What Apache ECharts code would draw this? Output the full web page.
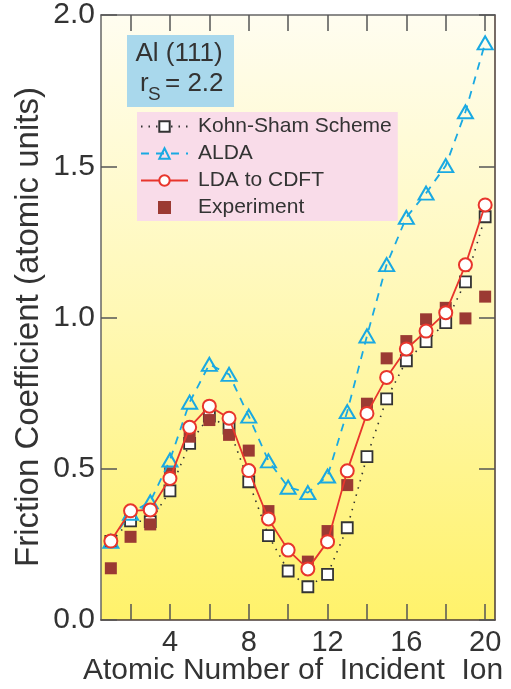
<!DOCTYPE html>
<html>
<head>
<meta charset="utf-8">
<script src="https://cdn.jsdelivr.net/npm/echarts@6/dist/echarts.min.js"></script>
<style>html,body{margin:0;padding:0;background:#fff;}#c{width:511px;height:689px;}</style>
</head>
<body>
<div id="c"></div>
<script>
const atomicNumbers = [1,2,3,4,5,6,7,8,9,10,11,12,13,14,15,16,17,18,19,20];
const kohnSham = [0.26,0.328,0.325,0.427,0.584,0.674,0.634,0.457,0.279,0.162,0.110,0.151,0.305,0.540,0.731,0.857,0.920,0.983,1.118,1.333];
const alda = [0.26,0.353,0.391,0.529,0.720,0.845,0.812,0.674,0.526,0.439,0.421,0.476,0.689,0.939,1.175,1.331,1.411,1.502,1.680,1.908];
const ldaCdft = [0.261,0.361,0.364,0.468,0.637,0.707,0.667,0.494,0.334,0.231,0.169,0.259,0.493,0.683,0.802,0.896,0.955,1.016,1.174,1.372];
const experiment = [0.171,0.275,0.316,0.485,0.606,0.661,0.612,0.560,0.360,null,0.193,0.294,0.446,0.715,0.865,0.922,0.994,1.032,0.997,1.069];
const xTickValues = [2,4,6,8,10,12,14,16,18,20];
const xLabelValues = [4,8,12,16,20];
const seriesNames = ['Kohn-Sham Scheme','ALDA','LDA to CDFT','Experiment'];

const pair = arr => atomicNumbers.map((n,i) => [n, arr[i]]).filter(p => p[1] !== null);
const txt = '#333333';
const font = '"Liberation Sans", Arial, Helvetica, sans-serif';

const chart = echarts.init(document.getElementById('c'));
const tickCommon = {show:true, inside:true, length:16, lineStyle:{color:'#555', width:1.5}};
chart.setOption({
  animation:false,
  backgroundColor:'#ffffff',
  grid:{left:101, right:16, top:15, bottom:69, show:true, borderWidth:0,
    backgroundColor:new echarts.graphic.LinearGradient(0,0,0,1,[
      {offset:0, color:'#fffdf0'},{offset:0.5, color:'#fff8b4'},{offset:1, color:'#fff26a'}])},
  xAxis:[
    {type:'value', min:0.5, max:20.5, position:'bottom',
     axisLine:{show:true, onZero:false, lineStyle:{color:'#4a3b36', width:1.5}},
     axisTick:Object.assign({customValues:xTickValues}, tickCommon),
     axisLabel:{customValues:xLabelValues, color:txt, fontSize:29, fontFamily:font, margin:8},
     splitLine:{show:false}},
    {type:'value', min:0.5, max:20.5, position:'top',
     axisLine:{show:true, onZero:false, lineStyle:{color:'#666', width:1.5}},
     axisTick:Object.assign({customValues:xTickValues}, tickCommon),
     axisLabel:{show:false}, splitLine:{show:false}}
  ],
  yAxis:[
    {type:'value', min:0, max:2, interval:0.5, position:'left',
     axisLine:{show:true, onZero:false, lineStyle:{color:'#666', width:1.5}},
     axisTick:tickCommon,
     axisLabel:{color:txt, fontSize:30, fontFamily:font, margin:6, formatter:v => v.toFixed(1)},
     splitLine:{show:false}},
    {type:'value', min:0, max:2, interval:0.5, position:'right',
     axisLine:{show:true, onZero:false, lineStyle:{color:'#4a3b36', width:1.5}},
     axisTick:tickCommon, axisLabel:{show:false}, splitLine:{show:false}}
  ],
  legend:{
    orient:'vertical', left:137, top:112,
    data:[seriesNames[0], seriesNames[1], seriesNames[2],
      {name:seriesNames[3], icon:'path://M0,0L10,0L10,10L0,10Z'}],
    backgroundColor:'#f9dce9', borderWidth:0,
    padding:[4,6,3,3], itemGap:6, itemWidth:47, itemHeight:13,
    textStyle:{color:txt, fontSize:21, fontFamily:font, lineHeight:21, padding:[0,0,0,5]}
  },
  series:[
    {name:seriesNames[0], type:'line', data:pair(kohnSham), symbol:'rect', symbolSize:11,
     itemStyle:{color:'#ffffff', borderColor:'#333', borderWidth:1.8},
     lineStyle:{color:'#333', width:1.6, type:[1.5,6]}, z:2},
    {name:seriesNames[3], type:'scatter', data:pair(experiment), symbol:'rect', symbolSize:12,
     itemStyle:{color:'#9b3a33', opacity:1}, z:3},
    {name:seriesNames[1], type:'line', data:pair(alda), symbol:'triangle', symbolSize:[15,13],
     itemStyle:{color:'rgba(255,255,255,0)', borderColor:'#1aa9e2', borderWidth:2},
     lineStyle:{color:'#1aa9e2', width:1.8, type:[8,7]}, z:4},
    {name:seriesNames[2], type:'line', data:pair(ldaCdft), symbol:'circle', symbolSize:13,
     itemStyle:{color:'#ffffff', borderColor:'#e8352c', borderWidth:2},
     lineStyle:{color:'#e8352c', width:1.8}, z:5}
  ],
  graphic:[
    {type:'rect', left:127, top:35, shape:{width:107, height:72}, style:{fill:'#a9d8ec'}, z:10},
    {type:'text', x:179, y:67, z:11, style:{text:'Al (111)', fill:txt, font:'26px '+font, textAlign:'center', textVerticalAlign:'bottom'}},
    {type:'text', x:140, y:97, z:11, style:{text:'r', fill:txt, font:'26px '+font, textAlign:'left', textVerticalAlign:'bottom'}},
    {type:'text', x:148, y:104, z:11, style:{text:'S', fill:txt, font:'19px '+font, textAlign:'left', textVerticalAlign:'bottom'}},
    {type:'text', x:165, y:97, z:11, style:{text:'= 2.2', fill:txt, font:'26px '+font, textAlign:'left', textVerticalAlign:'bottom'}},
    {type:'text', x:29, y:327, rotation:Math.PI/2, z:11, style:{text:'Friction Coefficient (atomic units)', fill:txt, font:'33px '+font, textAlign:'center', textVerticalAlign:'middle'}},
    {type:'text', x:293, y:671, z:11, style:{text:'Atomic Number of  Incident  Ion', fill:txt, font:'30px '+font, textAlign:'center', textVerticalAlign:'middle'}}
  ]
});
</script>
</body>
</html>
